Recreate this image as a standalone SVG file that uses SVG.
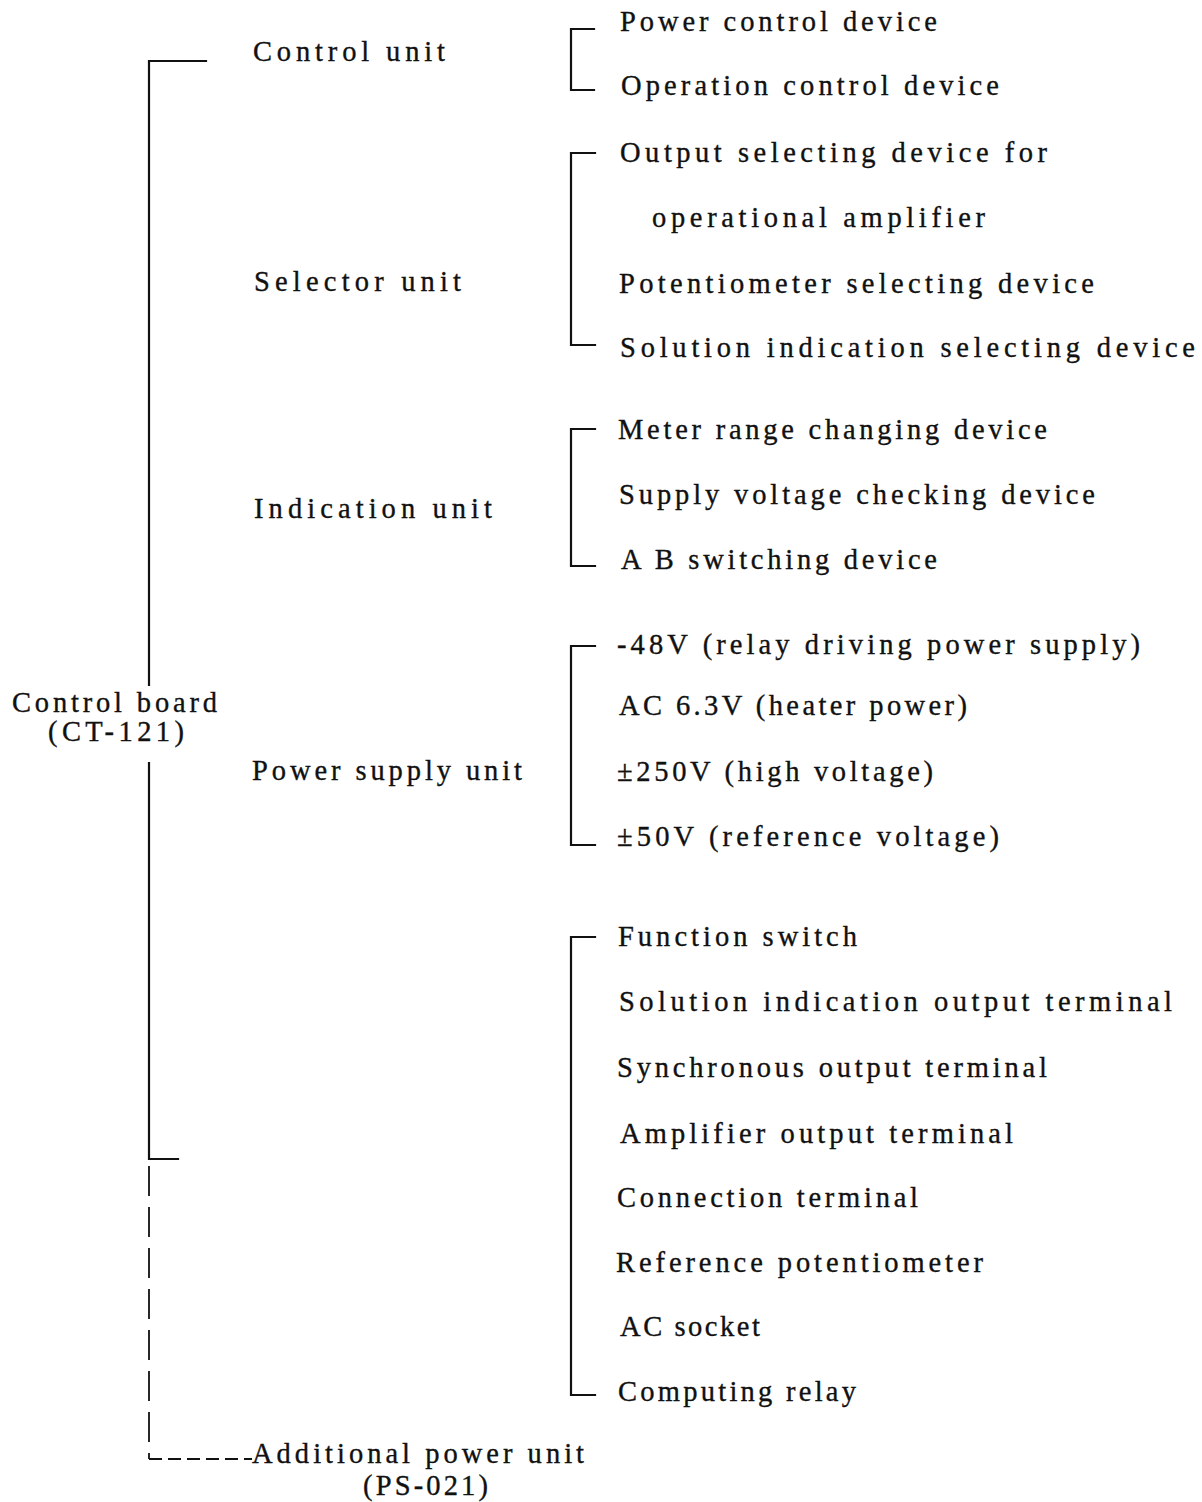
<svg xmlns="http://www.w3.org/2000/svg" width="1202" height="1502" viewBox="0 0 1202 1502">
<style>
text { font-family: "Liberation Serif", "Times New Roman", serif; font-size: 28.5px; fill: #111; stroke: #111; stroke-width: 0.35; }
.ln { fill: none; stroke: #111; stroke-width: 2.2; stroke-linecap: square; }
.dv { fill: none; stroke: #111; stroke-width: 1.8; stroke-dasharray: 30 11; }
.dh { fill: none; stroke: #111; stroke-width: 1.8; stroke-dasharray: 13 6; }
</style>
<rect width="1202" height="1502" fill="#fff"/>
<g id="connectors">
  <path class="ln" d="M206,61 H149 V685"/>
  <path class="ln" d="M149,763 V1159 H178"/>
  <path class="dv" d="M149,1166 V1459"/>
  <path class="dh" d="M149,1459 H252"/>
  <path class="ln" d="M594,29 H571 V90 H594"/>
  <path class="ln" d="M595,153 H571 V345 H595"/>
  <path class="ln" d="M595,429 H571 V566 H595"/>
  <path class="ln" d="M595,646 H571 V845 H595"/>
  <path class="ln" d="M595,937 H571 V1395 H595"/>
</g>
<g id="control-board">
  <text x="12" y="712" textLength="205" lengthAdjust="spacing">Control board</text>
  <text x="48" y="741" textLength="136" lengthAdjust="spacing">(CT-121)</text>
</g>
<g id="control-unit"><text x="253" y="61" textLength="192" lengthAdjust="spacing">Control unit</text></g>
<g id="selector-unit"><text x="254" y="291" textLength="207" lengthAdjust="spacing">Selector unit</text></g>
<g id="indication-unit"><text x="254" y="518" textLength="238" lengthAdjust="spacing">Indication unit</text></g>
<g id="power-supply-unit"><text x="252" y="780" textLength="270" lengthAdjust="spacing">Power supply unit</text></g>
<g id="additional-power-unit">
  <text x="252" y="1463" textLength="332" lengthAdjust="spacing">Additional power unit</text>
  <text x="363" y="1495" textLength="125" lengthAdjust="spacing">(PS-021)</text>
</g>
<g id="control-items">
  <text x="620" y="31" textLength="317" lengthAdjust="spacing">Power control device</text>
  <text x="621" y="95" textLength="378" lengthAdjust="spacing">Operation control device</text>
</g>
<g id="selector-items">
  <text x="620" y="162" textLength="427" lengthAdjust="spacing">Output selecting device for</text>
  <text x="652" y="227" textLength="333" lengthAdjust="spacing">operational amplifier</text>
  <text x="619" y="293" textLength="475" lengthAdjust="spacing">Potentiometer selecting device</text>
  <text x="620" y="357" textLength="575" lengthAdjust="spacing">Solution indication selecting device</text>
</g>
<g id="indication-items">
  <text x="618" y="439" textLength="429" lengthAdjust="spacing">Meter range changing device</text>
  <text x="619" y="504" textLength="476" lengthAdjust="spacing">Supply voltage checking device</text>
  <text x="621" y="569" textLength="316" lengthAdjust="spacing">A B switching device</text>
</g>
<g id="power-items">
  <text x="617" y="654" textLength="523" lengthAdjust="spacing">-48V (relay driving power supply)</text>
  <text x="619" y="715" textLength="348" lengthAdjust="spacing">AC 6.3V (heater power)</text>
  <text x="617" y="781" textLength="316" lengthAdjust="spacing">±250V (high voltage)</text>
  <text x="617" y="846" textLength="382" lengthAdjust="spacing">±50V (reference voltage)</text>
</g>
<g id="board-items">
  <text x="618" y="946" textLength="239" lengthAdjust="spacing">Function switch</text>
  <text x="619" y="1011" textLength="553" lengthAdjust="spacing">Solution indication output terminal</text>
  <text x="617" y="1077" textLength="430" lengthAdjust="spacing">Synchronous output terminal</text>
  <text x="620" y="1143" textLength="393" lengthAdjust="spacing">Amplifier output terminal</text>
  <text x="617" y="1207" textLength="301" lengthAdjust="spacing">Connection terminal</text>
  <text x="616" y="1272" textLength="367" lengthAdjust="spacing">Reference potentiometer</text>
  <text x="620" y="1336" textLength="140" lengthAdjust="spacing">AC socket</text>
  <text x="618" y="1401" textLength="238" lengthAdjust="spacing">Computing relay</text>
</g>
</svg>
